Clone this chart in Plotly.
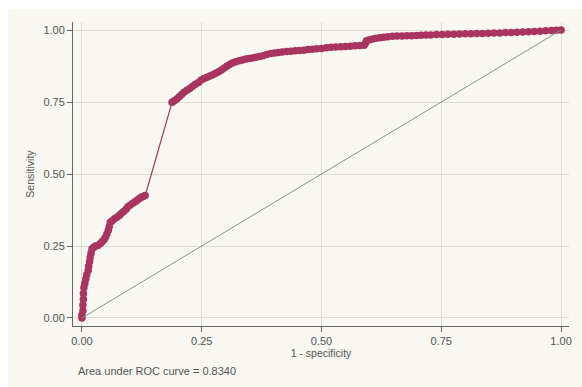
import plotly.graph_objects as go

# ROC coordinates: 1 - specificity (x) and sensitivity (y)
fpr = [0.000, 0.000, 0.002, 0.002, 0.003, 0.003, 0.004, 0.006, 0.008, 0.010,
       0.013, 0.014, 0.016, 0.017, 0.019, 0.021, 0.024, 0.028, 0.033, 0.038,
       0.042, 0.046, 0.049, 0.052, 0.055, 0.057, 0.059, 0.063, 0.068, 0.073,
       0.078, 0.082, 0.087, 0.092, 0.096, 0.101, 0.106, 0.111, 0.116, 0.120,
       0.124, 0.128, 0.132,
       0.188, 0.193, 0.198, 0.203, 0.208, 0.213, 0.219, 0.225, 0.231, 0.237,
       0.243, 0.249, 0.255, 0.261, 0.267, 0.273, 0.279, 0.285, 0.291, 0.297,
       0.303, 0.309, 0.315, 0.321, 0.328, 0.335, 0.342, 0.349, 0.356, 0.363,
       0.370, 0.378, 0.386, 0.394, 0.402, 0.410, 0.418, 0.427, 0.436, 0.445,
       0.454, 0.463, 0.472, 0.481, 0.490, 0.500, 0.510, 0.520, 0.530, 0.540,
       0.550, 0.560, 0.570, 0.580, 0.589, 0.592, 0.594, 0.600, 0.607, 0.614,
       0.622, 0.630, 0.638, 0.648, 0.658, 0.668, 0.678, 0.688, 0.698, 0.708,
       0.718, 0.728, 0.740, 0.752, 0.764, 0.776, 0.788, 0.800, 0.812, 0.824,
       0.836, 0.848, 0.860, 0.872, 0.884, 0.896, 0.908, 0.920, 0.932, 0.944,
       0.956, 0.968, 0.980, 0.990, 1.000]
tpr = [0.000, 0.010, 0.025, 0.045, 0.065, 0.085, 0.105, 0.120, 0.135, 0.150,
       0.165, 0.180, 0.195, 0.210, 0.225, 0.240, 0.245, 0.250, 0.252, 0.258,
       0.265, 0.272, 0.280, 0.292, 0.305, 0.318, 0.332, 0.338, 0.345, 0.350,
       0.356, 0.363, 0.370, 0.378, 0.386, 0.392, 0.398, 0.404, 0.410, 0.415,
       0.419, 0.422, 0.425,
       0.749, 0.754, 0.760, 0.768, 0.776, 0.784, 0.791, 0.797, 0.805, 0.812,
       0.818, 0.826, 0.832, 0.836, 0.840, 0.845, 0.850, 0.855, 0.861, 0.868,
       0.875, 0.881, 0.886, 0.890, 0.893, 0.896, 0.899, 0.901, 0.903, 0.905,
       0.908, 0.911, 0.915, 0.918, 0.920, 0.922, 0.924, 0.925, 0.926, 0.928,
       0.929, 0.930, 0.932, 0.933, 0.935, 0.936, 0.938, 0.940, 0.941, 0.942,
       0.943, 0.944, 0.945, 0.946, 0.947, 0.955, 0.963, 0.966, 0.969, 0.971,
       0.973, 0.975, 0.977, 0.978, 0.979, 0.979, 0.980, 0.980, 0.981, 0.982,
       0.983, 0.983, 0.984, 0.984, 0.985, 0.985, 0.986, 0.987, 0.987, 0.988,
       0.988, 0.989, 0.990, 0.990, 0.991, 0.991, 0.992, 0.993, 0.994, 0.995,
       0.996, 0.997, 0.998, 0.999, 1.000]

# Reference line of no discrimination
ref_x = [0.0, 1.0]
ref_y = [0.0, 1.0]

tick_vals = [0.0, 0.25, 0.5, 0.75, 1.0]
tick_text = ["0.00", "0.25", "0.50", "0.75", "1.00"]
auc_label = "Area under ROC curve = 0.8340"

BG = "#f8f7f1"
CURVE = "#a8345f"
DIAG = "#7c9a8b"
GRID = "#dddcd3"
AXIS = "#666666"
TEXT = "#555555"
FONT = "Liberation Sans, Arial, sans-serif"

fig = go.Figure()
fig.add_trace(go.Scatter(
    x=fpr, y=tpr, mode="lines+markers",
    line=dict(color=CURVE, width=1.2),
    marker=dict(color=CURVE, size=7.5, line=dict(width=0)),
    showlegend=False, hoverinfo="x+y",
))
fig.add_trace(go.Scatter(
    x=ref_x, y=ref_y, mode="lines",
    line=dict(color=DIAG, width=1),
    showlegend=False, hoverinfo="skip",
))

axis_common = dict(
    tickvals=tick_vals, ticktext=tick_text,
    showgrid=True, gridcolor=GRID, gridwidth=1,
    zeroline=False, showline=True, linecolor=AXIS, linewidth=1,
    ticks="outside", ticklen=5, tickcolor=AXIS, tickwidth=1,
    tickfont=dict(family=FONT, size=11, color=TEXT),
)

fig.update_layout(
    width=582, height=387,
    margin=dict(l=73, r=10, t=22, b=61),
    paper_bgcolor=BG, plot_bgcolor=BG,
    font=dict(family=FONT, color=TEXT),
    xaxis=dict(range=[-0.0187, 1.0166],
               title=dict(text="1 - specificity", font=dict(size=10.5, color=TEXT), standoff=3),
               **axis_common),
    yaxis=dict(range=[-0.0278, 1.0278],
               title=dict(text="Sensitivity", font=dict(size=10.5, color=TEXT), standoff=6),
               **axis_common),
    annotations=[dict(
        text=auc_label, xref="paper", yref="paper",
        x=0.006, y=-0.148, xanchor="left", yanchor="middle",
        showarrow=False, font=dict(family=FONT, size=11, color=TEXT),
    )],
    shapes=[
        # white border along the top and left edges of the canvas
        dict(type="rect", xref="paper", yref="paper",
             x0=-0.2, x1=1.1, y0=1.0 + 13 / 304, y1=1.2,
             fillcolor="white", line=dict(width=0), layer="above"),
        dict(type="rect", xref="paper", yref="paper",
             x0=-0.2, x1=-65 / 499, y0=-0.3, y1=1.2,
             fillcolor="white", line=dict(width=0), layer="above"),
    ],
)

fig.write_html("out.html")
